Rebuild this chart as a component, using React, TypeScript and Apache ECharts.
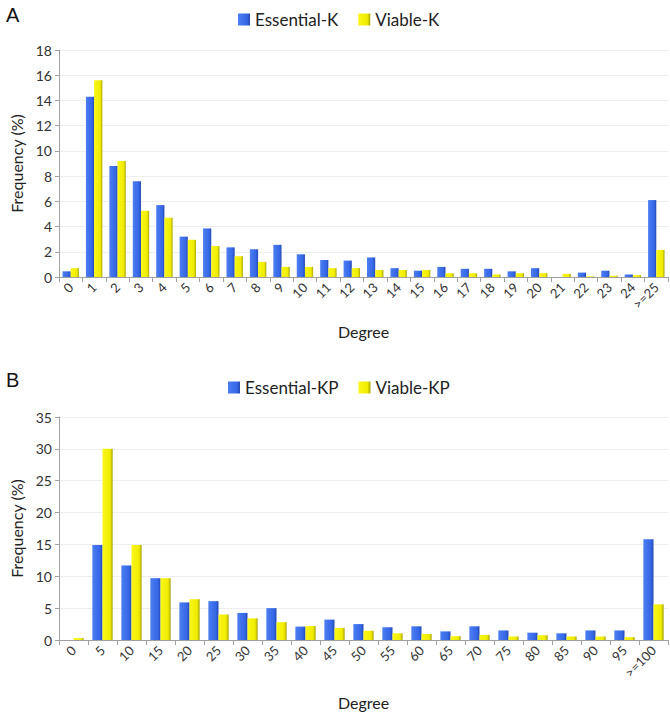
import React, { useEffect, useRef } from "react";
import * as echarts from "echarts";

const catsA = ["0","1","2","3","4","5","6","7","8","9","10","11","12","13","14","15","16","17","18","19","20","21","22","23","24",">=25"];
const essentialK = [0.45,14.3,8.8,7.6,5.7,3.2,3.85,2.35,2.2,2.55,1.8,1.35,1.3,1.55,0.7,0.5,0.8,0.65,0.65,0.45,0.7,0,0.35,0.5,0.2,6.1];
const viableK = [0.7,15.6,9.2,5.25,4.7,2.95,2.45,1.65,1.2,0.8,0.8,0.7,0.7,0.55,0.55,0.55,0.3,0.3,0.2,0.3,0.3,0.25,0.05,0.1,0.15,2.15];

const catsB = ["0","5","10","15","20","25","30","35","40","45","50","55","60","65","70","75","80","85","90","95",">=100"];
const essentialKP = [0,14.9,11.7,9.7,5.9,6.1,4.25,5.0,2.1,3.2,2.5,2.0,2.15,1.35,2.15,1.5,1.15,1.05,1.5,1.5,15.8];
const viableKP = [0.3,30.0,14.9,9.7,6.4,4.0,3.4,2.8,2.2,1.9,1.45,1.05,0.95,0.6,0.8,0.55,0.75,0.55,0.55,0.45,5.6];

const FONT = "Lato";

const blue = new echarts.graphic.LinearGradient(0, 0, 1, 0, [
  { offset: 0, color: "#4C7EF2" },
  { offset: 0.75, color: "#3566E6" },
  { offset: 1, color: "#2448B0" },
]);
const yellow = new echarts.graphic.LinearGradient(0, 0, 1, 0, [
  { offset: 0, color: "#FAF71A" },
  { offset: 0.75, color: "#F0EC00" },
  { offset: 1, color: "#A8A500" },
]);

export default function App() {
  const ref = useRef<HTMLDivElement>(null);
  useEffect(() => {
    if (!ref.current) return;
    const chart = echarts.init(ref.current, null, { renderer: "svg" });
    const xAxisCommon = (data: string[], gridIndex: number, nameGap: number) => ({
      type: "category",
      gridIndex,
      data,
      boundaryGap: true,
      name: "Degree",
      nameLocation: "middle",
      nameGap,
      nameTextStyle: { fontFamily: FONT, fontSize: 16, color: "#222" },
      axisLine: { lineStyle: { color: "#A0A0A0" } },
      axisTick: { show: true, alignWithLabel: false, length: 5, lineStyle: { color: "#A0A0A0" } },
      axisLabel: { rotate: 45, interval: 0, fontFamily: FONT, fontSize: 13, color: "#333", margin: 8 },
    });
    const yAxisCommon = (gridIndex: number, max: number, interval: number) => ({
      type: "value",
      gridIndex,
      min: 0,
      max,
      interval,
      name: "Frequency (%)",
      nameLocation: "middle",
      nameGap: 35,
      nameTextStyle: { fontFamily: FONT, fontSize: 16, color: "#222" },
      axisLine: { show: true, lineStyle: { color: "#A0A0A0" } },
      axisTick: { show: true, length: 4, lineStyle: { color: "#A0A0A0" } },
      axisLabel: { fontFamily: FONT, fontSize: 14, color: "#333", margin: 7 },
      splitLine: { show: true, lineStyle: { color: "#EEEEEE" } },
    });
    chart.setOption({
      animation: false,
      backgroundColor: "#FFFFFF",
      title: [
        { text: "A", left: 1, top: 0, textStyle: { fontFamily: "Liberation Sans", fontSize: 20, fontWeight: "normal", color: "#111" } },
        { text: "B", left: 1, top: 365, textStyle: { fontFamily: "Liberation Sans", fontSize: 20, fontWeight: "normal", color: "#111" } },
      ],
      legend: [
        {
          data: ["Essential-K", "Viable-K"],
          top: 6,
          left: 233,
          itemWidth: 12,
          itemHeight: 12,
          itemGap: 20,
          icon: "rect",
          textStyle: { fontFamily: FONT, fontSize: 17, color: "#222" },
        },
        {
          data: ["Essential-KP", "Viable-KP"],
          top: 374,
          left: 223,
          itemWidth: 12,
          itemHeight: 12,
          itemGap: 20,
          icon: "rect",
          textStyle: { fontFamily: FONT, fontSize: 17, color: "#222" },
        },
      ],
      grid: [
        { left: 52, right: 2, top: 50, height: 227 },
        { left: 52, right: 2, top: 417, height: 223 },
      ],
      xAxis: [xAxisCommon(catsA, 0, 46), xAxisCommon(catsB, 1, 54)],
      yAxis: [yAxisCommon(0, 18, 2), yAxisCommon(1, 35, 5)],
      series: [
        { name: "Essential-K", type: "bar", xAxisIndex: 0, yAxisIndex: 0, data: essentialK, barGap: "0%", barCategoryGap: "30%", itemStyle: { color: blue } },
        { name: "Viable-K", type: "bar", xAxisIndex: 0, yAxisIndex: 0, data: viableK, barGap: "0%", barCategoryGap: "30%", itemStyle: { color: yellow } },
        { name: "Essential-KP", type: "bar", xAxisIndex: 1, yAxisIndex: 1, data: essentialKP, barGap: "0%", barCategoryGap: "30%", itemStyle: { color: blue } },
        { name: "Viable-KP", type: "bar", xAxisIndex: 1, yAxisIndex: 1, data: viableKP, barGap: "0%", barCategoryGap: "30%", itemStyle: { color: yellow } },
      ],
    });
    return () => chart.dispose();
  }, []);
  return <div ref={ref} style={{ width: 670, height: 713, position: "absolute", left: 0, top: 0 }} />;
}
